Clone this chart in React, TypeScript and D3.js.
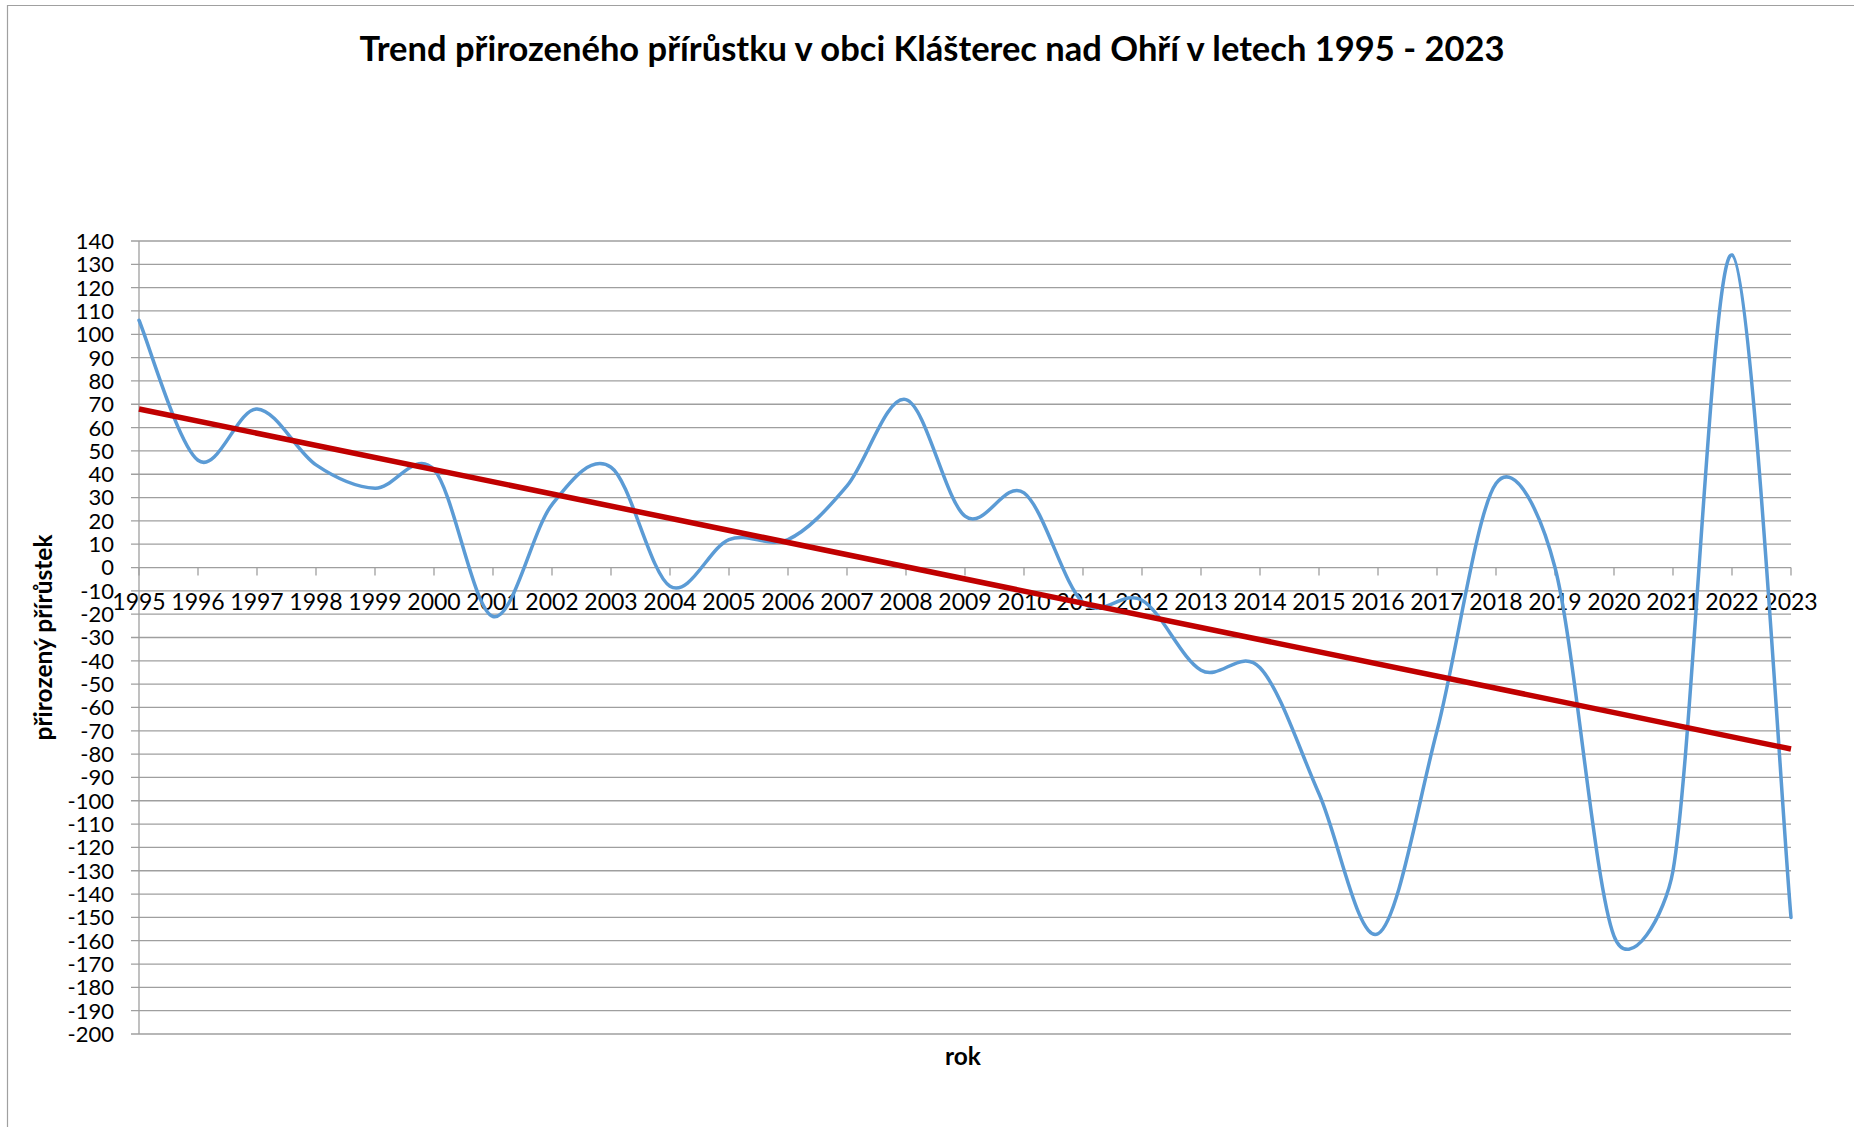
import React, { useEffect, useRef } from 'react';
import * as d3 from 'd3';

const years = [1995, 1996, 1997, 1998, 1999, 2000, 2001, 2002, 2003, 2004, 2005, 2006, 2007, 2008, 2009,
    2010, 2011, 2012, 2013, 2014, 2015, 2016, 2017, 2018, 2019, 2020, 2021, 2022, 2023];

const increase = [106, 46, 68, 44, 34, 42, -21, 27, 43, -8, 12, 12, 35, 72, 22,
    32, -15, -14, -44, -43, -97, -157, -70, 36, 0, -158, -130, 134, -150];

const yTicks = d3.range(-200, 141, 10);

const title = 'Trend přirozeného přírůstku v obci Klášterec nad Ohří v letech 1995 - 2023';
const yTitle = 'přirozený přírůstek';
const xTitle = 'rok';

// smoothed line the way the spreadsheet does it: cardinal bezier, handles capped at half a segment
function smoothPath(pts) {
    const p = d3.path();
    const n = pts.length;
    const dist = (a, b) => Math.hypot(b[0] - a[0], b[1] - a[1]);
    p.moveTo(pts[0][0], pts[0][1]);
    for (let i = 0; i < n - 1; i++) {
        const p0 = pts[Math.max(i - 1, 0)];
        const p1 = pts[i];
        const p2 = pts[i + 1];
        const p3 = pts[Math.min(i + 2, n - 1)];
        const d12 = dist(p1, p2);
        const d02 = dist(p0, p2);
        const d13 = dist(p1, p3);
        const f1 = d02 > 0 ? Math.min(1 / 6, d12 / 2 / d02) : 0;
        const f2 = d13 > 0 ? Math.min(1 / 6, d12 / 2 / d13) : 0;
        p.bezierCurveTo(
            p1[0] + f1 * (p2[0] - p0[0]), p1[1] + f1 * (p2[1] - p0[1]),
            p2[0] - f2 * (p3[0] - p1[0]), p2[1] - f2 * (p3[1] - p1[1]),
            p2[0], p2[1]);
    }
    return p.toString();
}

export default function App() {
    const svgRef = useRef(null);

    const width = 1854;
    const height = 1127;
    const plot = { left: 139, right: 1791, top: 241, bottom: 1034 };
    const font = 'Lato, "Open Sans", sans-serif';

    useEffect(() => {
        const svg = d3.select(svgRef.current);
        svg.selectAll('*').remove();

        const x = d3.scalePoint()
            .domain(years.map(String))
            .range([plot.left, plot.right]);

        const y = d3.scaleLinear()
            .domain([-200, 140])
            .range([plot.bottom, plot.top]);

        // frame
        svg.append('path')
            .attr('d', `M7.5,${height} V5.5 H${width}`)
            .attr('fill', 'none')
            .attr('stroke', '#a0a0a0')
            .attr('stroke-width', 1.2);

        // gridlines
        svg.append('g')
            .selectAll('line')
            .data(yTicks)
            .enter()
            .append('line')
            .attr('x1', plot.left - 8)
            .attr('x2', plot.right)
            .attr('y1', d => y(d))
            .attr('y2', d => y(d))
            .attr('stroke', '#9f9f9f')
            .attr('stroke-width', 1.3);

        // y axis line
        svg.append('line')
            .attr('x1', plot.left).attr('x2', plot.left)
            .attr('y1', plot.top).attr('y2', plot.bottom)
            .attr('stroke', '#9f9f9f')
            .attr('stroke-width', 1.3);

        // y tick labels
        svg.append('g')
            .selectAll('text')
            .data(yTicks)
            .enter()
            .append('text')
            .attr('x', plot.left - 25)
            .attr('y', d => y(d))
            .attr('dy', '0.36em')
            .attr('text-anchor', 'end')
            .style('font-family', font)
            .style('font-size', '22px')
            .attr('fill', '#000')
            .text(d => d);

        // x axis ticks at zero
        svg.append('g')
            .selectAll('line')
            .data(years)
            .enter()
            .append('line')
            .attr('x1', d => x(String(d)))
            .attr('x2', d => x(String(d)))
            .attr('y1', y(0))
            .attr('y2', y(0) + 8)
            .attr('stroke', '#9f9f9f')
            .attr('stroke-width', 1.3);

        svg.append('g')
            .selectAll('text')
            .data(years)
            .enter()
            .append('text')
            .attr('x', d => x(String(d)))
            .attr('y', y(0) + 42)
            .attr('text-anchor', 'middle')
            .style('font-family', font)
            .style('font-size', '23px')
            .attr('fill', '#000')
            .text(d => d);

        // data line
        const pts = increase.map((v, i) => [x(String(years[i])), y(v)]);
        svg.append('path')
            .attr('d', smoothPath(pts))
            .attr('fill', 'none')
            .attr('stroke', '#5b9bd5')
            .attr('stroke-width', 3.5)
            .attr('stroke-linecap', 'round');

        // linear trend (least squares)
        const n = increase.length;
        const idx = d3.range(n);
        const mx = d3.mean(idx);
        const my = d3.mean(increase);
        const slope = d3.sum(idx, i => (i - mx) * (increase[i] - my)) / d3.sum(idx, i => (i - mx) ** 2);
        const icpt = my - slope * mx;

        svg.append('line')
            .attr('x1', x(String(years[0])))
            .attr('x2', x(String(years[n - 1])))
            .attr('y1', y(icpt))
            .attr('y2', y(icpt + slope * (n - 1)))
            .attr('stroke', '#c00000')
            .attr('stroke-width', 5.5);

        // titles
        svg.append('text')
            .attr('x', 932)
            .attr('y', 61)
            .attr('text-anchor', 'middle')
            .style('font-family', font)
            .style('font-weight', 'bold')
            .style('font-size', '34.5px')
            .text(title);

        svg.append('text')
            .attr('transform', `translate(52, ${(plot.top + plot.bottom) / 2}) rotate(-90)`)
            .attr('text-anchor', 'middle')
            .style('font-family', font)
            .style('font-weight', 'bold')
            .style('font-size', '24.5px')
            .text(yTitle);

        svg.append('text')
            .attr('x', 963)
            .attr('y', 1065)
            .attr('text-anchor', 'middle')
            .style('font-family', font)
            .style('font-weight', 'bold')
            .style('font-size', '24.5px')
            .text(xTitle);
    });

    return (
        <svg ref={svgRef} width={width} height={height}
            style={{ position: 'absolute', left: 0, top: 0, background: '#fff' }} />
    );
}
